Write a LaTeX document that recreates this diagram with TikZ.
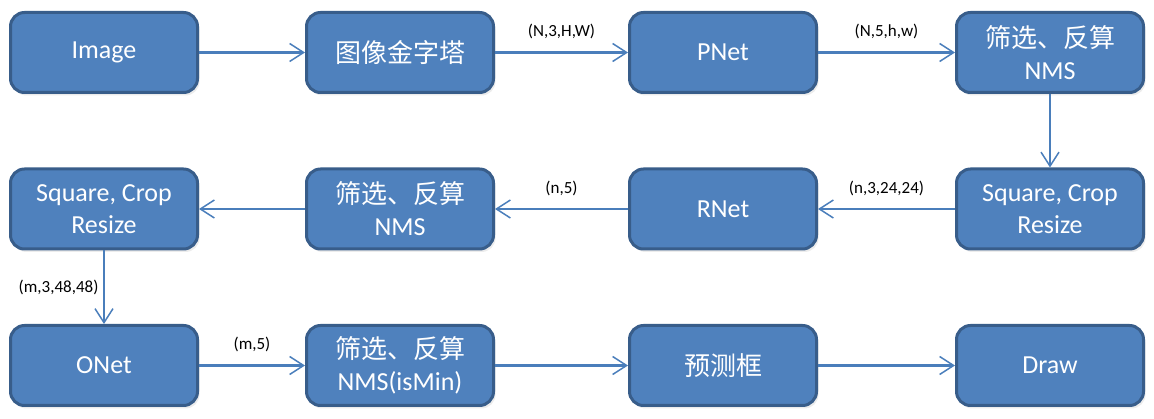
\documentclass[tikz,border=0pt]{standalone}
\usepackage{fontspec}
\setmainfont{Carlito}
\newfontfamily\cjk{Noto Sans CJK SC}
\usepackage{xcolor}
\usepackage{tikz}
\usetikzlibrary{positioning, arrows.meta, shadows}

\definecolor{boxfill}{HTML}{4F81BD}
\definecolor{boxline}{HTML}{385D8A}
\definecolor{flowline}{HTML}{4A7EBB}

\begin{document}
\begin{tikzpicture}[on grid, thick,
    stage/.style={rectangle, rounded corners=14pt, draw=boxline, line width=3pt,
      fill=boxfill, minimum width=187pt, minimum height=80pt, align=center,
      text=white, font=\fontsize{26}{32}\selectfont,
      drop shadow={shadow xshift=2pt, shadow yshift=-3pt, fill=black!15}},
    flow/.style={draw=flowline, line width=2.5pt,
      -{Straight Barb[length=14pt, width=18pt, line width=1.5pt]}},
    dims/.style={font=\fontsize{17}{19}\selectfont, text=black}]
       \useasboundingbox (0,0) rectangle (1154pt,-419pt);

       % first row, left to right
       \node[stage] (img) at (104pt,-52.5pt) {Image};
       \node[stage] (pyramid) [right=296pt of img] {\cjk 图像金字塔};
       \node[stage] (pnet) [right=323pt of pyramid] {PNet};
       \node[stage] (pfilter) [right=327pt of pnet] {{\cjk 筛选、反算}\\NMS};

       % second row, right to left
       \node[stage] (rcrop) [below=156.5pt of pfilter] {Square, Crop\\Resize};
       \node[stage] (rnet) [left=327pt of rcrop] {RNet};
       \node[stage] (rfilter) [left=323pt of rnet] {{\cjk 筛选、反算}\\NMS};
       \node[stage] (ocrop) [left=296pt of rfilter] {Square, Crop\\Resize};

       % third row, left to right
       \node[stage] (onet) [below=156.5pt of ocrop] {ONet};
       \node[stage] (ofilter) [right=296pt of onet] {{\cjk 筛选、反算}\\NMS(isMin)};
       \node[stage] (boxes) [right=323pt of ofilter] {\cjk 预测框};
       \node[stage] (drawout) [right=327pt of boxes] {Draw};

       \path[flow]
       (img) edge (pyramid)
       (pyramid) edge node[dims, above=9pt] {(N,3,H,W)} (pnet)
       (pnet) edge node[dims, above=9pt] {(N,5,h,w)} (pfilter)
       (pfilter) edge (rcrop)
       (rcrop) edge node[dims, above=9pt] {(n,3,24,24)} (rnet)
       (rnet) edge node[dims, above=9pt] {(n,5)} (rfilter)
       (rfilter) edge (ocrop)
       (ocrop) edge node[dims, left=1pt] {(m,3,48,48)} (onet)
       (onet) edge node[dims, above=9pt] {(m,5)} (ofilter)
       (ofilter) edge (boxes)
       (boxes) edge (drawout);
    \end{tikzpicture}
\end{document}
